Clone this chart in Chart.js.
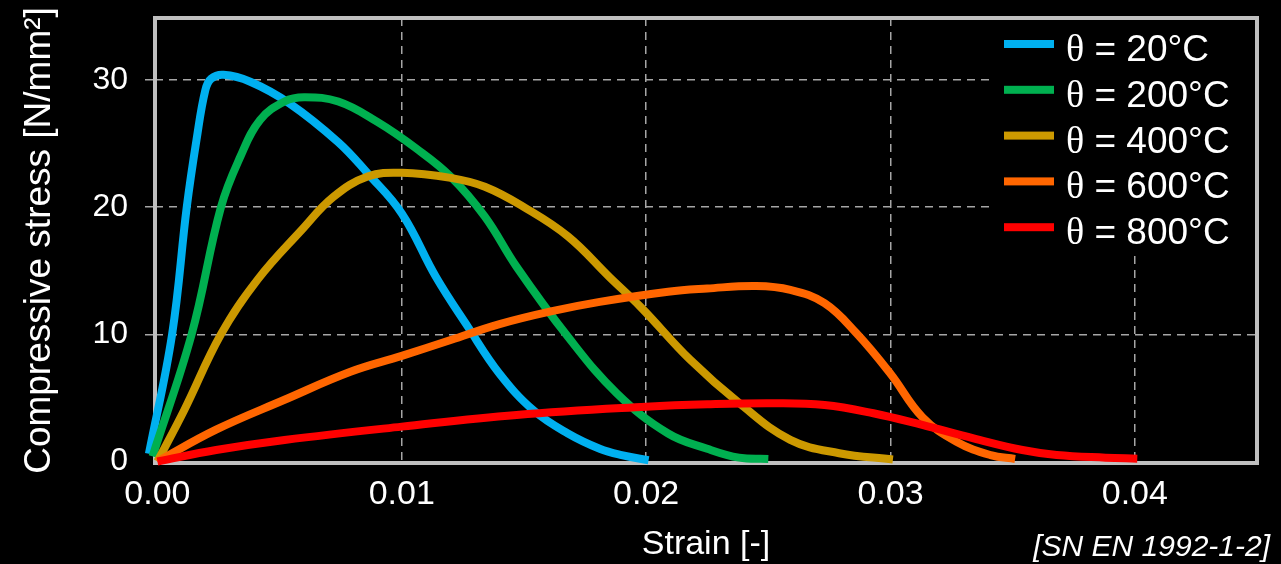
<!DOCTYPE html>
<html>
<head>
<meta charset="utf-8">
<script src="https://cdn.jsdelivr.net/npm/chart.js@4"></script>
<style>
  html, body { margin: 0; background: #000; }
  canvas { display: block; }
</style>
</head>
<body>
<canvas id="stressChart" width="1281" height="564"></canvas>
<script>
// concrete stress-strain curves at elevated temperature
const temps = ['20°C', '200°C', '400°C', '600°C', '800°C'];
const colors = ['#00B0F0', '#00B050', '#CC9900', '#FF6600', '#FF0000'];

const strain20 = [-0.00035, 0.0006, 0.0012, 0.0016, 0.00196, 0.0022, 0.0027, 0.0038, 0.0054, 0.0074, 0.0086, 0.0100, 0.0114, 0.0127, 0.0140, 0.0154, 0.0168, 0.0181, 0.0190, 0.0201];
const stress20 = [0.6, 10.0, 20.0, 25.3, 29.2, 30.1, 30.4, 29.86, 28.16, 25.1, 22.66, 19.5, 14.5, 10.6, 6.9, 4.0, 2.2, 1.0, 0.5, 0.1];

const strain200 = [-0.0002, 0.0014, 0.0026, 0.0034, 0.0042, 0.0052, 0.0060, 0.0074, 0.0090, 0.0106, 0.0120, 0.0134, 0.0147, 0.0168, 0.0188, 0.0209, 0.0225, 0.0238, 0.0250];
const stress200 = [0.4, 10.0, 20.0, 24.0, 26.85, 28.3, 28.63, 28.3, 26.7, 24.6, 22.4, 19.25, 15.3, 9.8, 5.36, 2.2, 1.0, 0.3, 0.2];

const strain400 = [0, 0.0011, 0.0026, 0.0041, 0.0059, 0.0072, 0.0086, 0.0100, 0.0120, 0.0134, 0.0150, 0.0168, 0.0185, 0.0198, 0.0218, 0.0238, 0.0259, 0.0279, 0.0301];
const stress400 = [0, 4.05, 10.0, 14.3, 18.2, 20.8, 22.4, 22.7, 22.3, 21.6, 20.0, 17.7, 14.5, 12.1, 8.0, 4.6, 1.7, 0.65, 0.15];

const strain600 = [0, 0.0024, 0.0052, 0.0079, 0.0100, 0.0120, 0.0140, 0.0161, 0.0181, 0.0209, 0.0225, 0.0245, 0.0259, 0.0273, 0.0286, 0.0300, 0.0313, 0.0327, 0.0341, 0.0351];
const stress600 = [0, 2.5, 4.85, 7.05, 8.3, 9.55, 10.8, 11.8, 12.55, 13.35, 13.6, 13.8, 13.5, 12.45, 10.1, 6.9, 3.5, 1.55, 0.5, 0.2];

const strain800 = [0, 0.0024, 0.0052, 0.0100, 0.0147, 0.0200, 0.0225, 0.0252, 0.0273, 0.0293, 0.0313, 0.0334, 0.0354, 0.0368, 0.0388, 0.0401];
const stress800 = [0, 0.9, 1.69, 2.74, 3.66, 4.31, 4.5, 4.58, 4.44, 3.79, 2.87, 1.82, 0.9, 0.51, 0.3, 0.22];

const xTicks = [0, 0.01, 0.02, 0.03, 0.04];
const xTickLabels = ['0.00', '0.01', '0.02', '0.03', '0.04'];
const yTicks = [0, 10, 20, 30];

const series = [
  [strain20, stress20],
  [strain200, stress200],
  [strain400, stress400],
  [strain600, stress600],
  [strain800, stress800]
];

const gridGrey = '#A6A6A6';
const gridColor = c => (c.tick && c.tick.value === 0) ? 'rgba(0,0,0,0)' : gridGrey;

// grey frame round the plot area
const frame = {
  id: 'frame',
  beforeDatasetsDraw(chart) {
    const { ctx, chartArea: a } = chart;
    ctx.save();
    ctx.strokeStyle = '#BFBFBF';
    ctx.lineWidth = 4;
    ctx.strokeRect(a.left, a.top, a.right - a.left, a.bottom - a.top);
    ctx.restore();
  }
};

// legend box in the top right corner plus the source note
const legendBox = {
  id: 'legendBox',
  afterDraw(chart) {
    const { ctx, chartArea: a } = chart;
    ctx.save();
    ctx.fillStyle = '#000';
    ctx.fillRect(a.right - 263, a.top + 2, 261, 230);
    chart.data.datasets.forEach((ds, i) => {
      const y = a.top + 26 + i * 45.8;
      ctx.fillStyle = ds.borderColor;
      ctx.fillRect(a.right - 253, y - 4, 50, 8);
      ctx.fillStyle = '#fff';
      ctx.textBaseline = 'alphabetic';
      ctx.textAlign = 'left';
      ctx.font = '38px "Liberation Serif"';
      const x0 = a.right - 191;
      ctx.fillText('θ', x0, y + 17);
      const w = ctx.measureText('θ').width;
      ctx.font = '37px "Liberation Sans"';
      ctx.fillText(' = ' + temps[i], x0 + w, y + 17);
    });
    ctx.font = 'italic 30px "Liberation Sans"';
    ctx.textAlign = 'right';
    ctx.fillStyle = '#fff';
    ctx.fillText('[SN EN 1992-1-2]', 1270, 556);
    ctx.restore();
  }
};

new Chart(document.getElementById('stressChart'), {
  type: 'scatter',
  data: {
    datasets: series.map(([xs, ys], i) => ({
      label: 'θ = ' + temps[i],
      data: xs.map((x, k) => ({ x: x, y: ys[k] })),
      showLine: true,
      borderColor: colors[i],
      backgroundColor: colors[i],
      borderWidth: 8,
      pointRadius: 0,
      tension: 0.4,
      borderJoinStyle: 'round',
      clip: false,
      order: series.length - i
    }))
  },
  options: {
    responsive: false,
    animation: false,
    devicePixelRatio: 1,
    layout: { padding: { left: 0, right: 24, top: 18, bottom: 0 } },
    plugins: { legend: { display: false }, tooltip: { enabled: false } },
    scales: {
      x: {
        type: 'linear',
        min: -0.0001,
        max: 0.045,
        afterBuildTicks: s => { s.ticks = xTicks.map(v => ({ value: v })); },
        afterFit: s => { s.height = 101; s.paddingLeft = 0; s.paddingRight = 0; },
        ticks: {
          color: '#fff',
          padding: 11,
          maxRotation: 0,
          font: { family: 'Liberation Sans', size: 34, lineHeight: 1.2 },
          callback: (v, i) => xTickLabels[i]
        },
        grid: { color: gridColor, lineWidth: 1.5, drawTicks: false, borderDash: [8, 6] },
        border: { display: false, dash: [8, 6] },
        title: {
          display: true,
          text: 'Strain [-]',
          color: '#fff',
          font: { family: 'Liberation Sans', size: 34, lineHeight: 1 },
          padding: { top: 0, bottom: 2 }
        }
      },
      y: {
        type: 'linear',
        min: -0.12,
        max: 34.87,
        afterBuildTicks: s => { s.ticks = yTicks.map(v => ({ value: v })); },
        afterFit: s => { s.width = 155; s.paddingTop = 0; s.paddingBottom = 0; },
        ticks: {
          color: '#fff',
          padding: 17,
          font: { family: 'Liberation Sans', size: 32 },
          callback: v => String(v)
        },
        grid: { color: gridColor, lineWidth: 1.5, tickLength: 10, borderDash: [8, 6], tickBorderDash: [8, 6] },
        border: { display: false, dash: [8, 6] },
        title: {
          display: true,
          text: 'Compressive stress [N/mm²]',
          color: '#fff',
          font: { family: 'Liberation Sans', size: 37, lineHeight: 1 },
          padding: { top: 21, bottom: 0 }
        }
      }
    }
  },
  plugins: [frame, legendBox]
});
</script>
</body>
</html>
